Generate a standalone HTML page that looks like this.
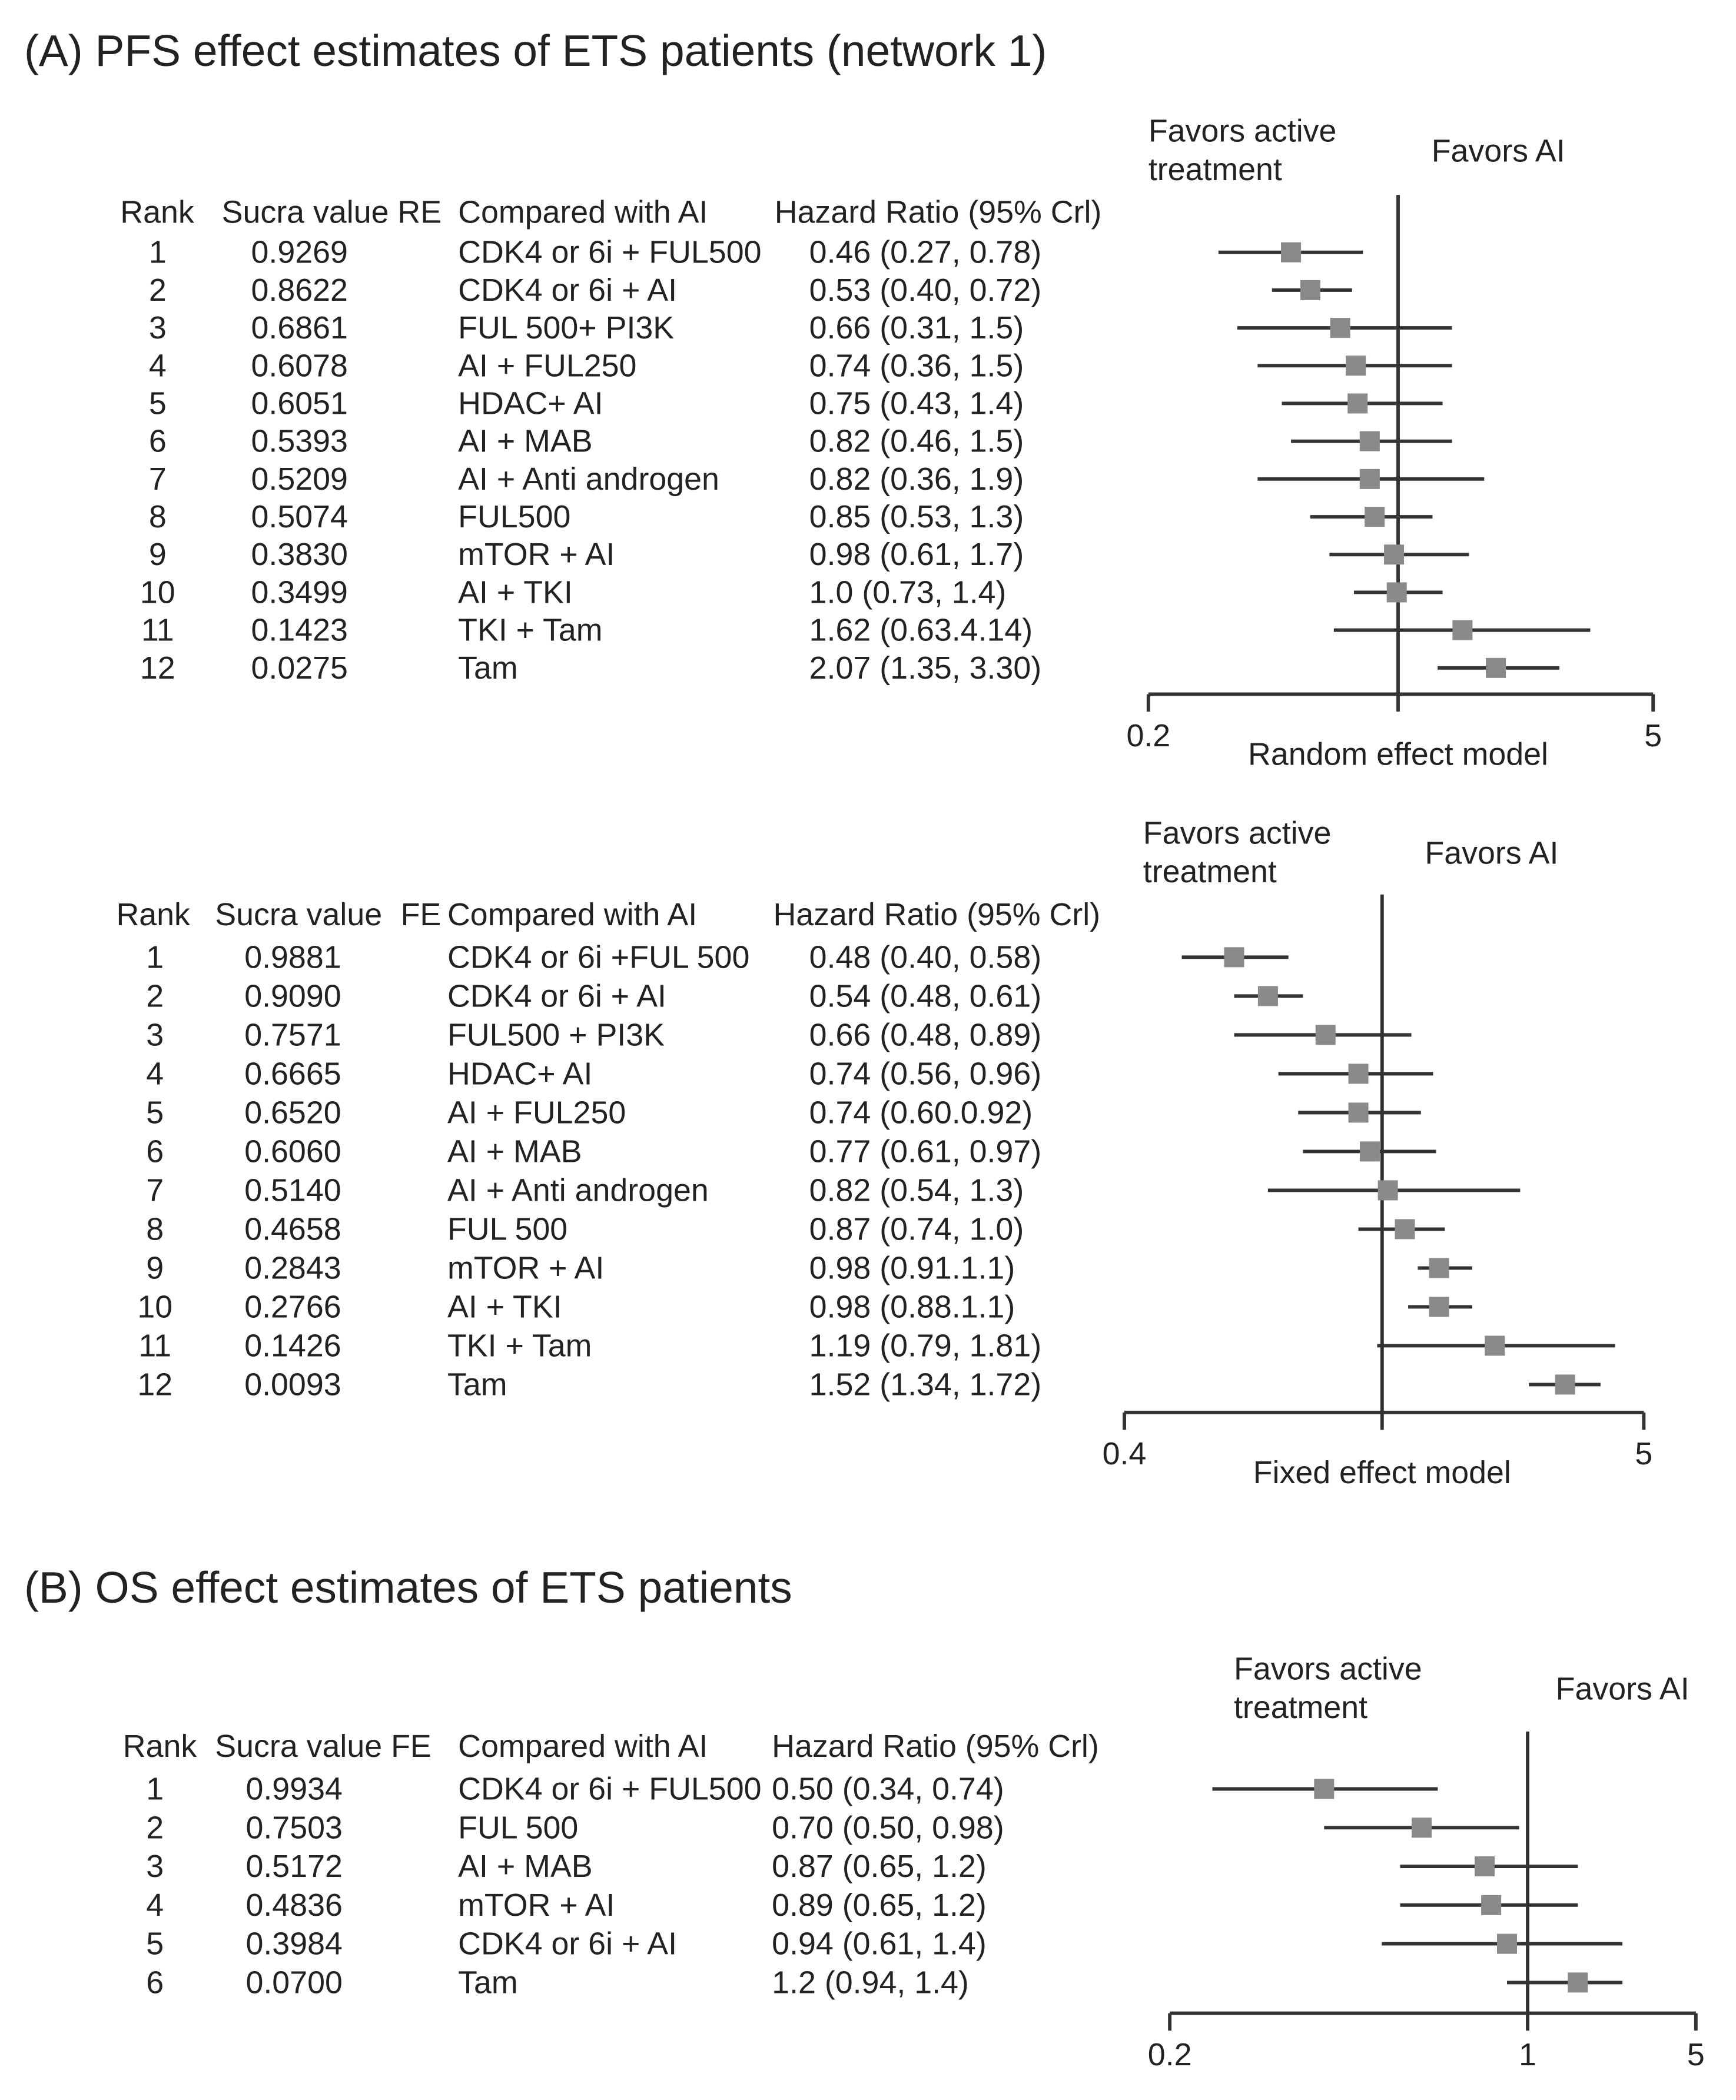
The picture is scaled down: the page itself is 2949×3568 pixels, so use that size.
<!DOCTYPE html>
<html><head><meta charset="utf-8"><style>
html,body{margin:0;padding:0;background:#fff;}
svg{display:block;}
text{font-family:"Liberation Sans",Arial,sans-serif;fill:#222;}
</style></head><body>
<svg id="fig" xmlns="http://www.w3.org/2000/svg" width="2949" height="3568" viewBox="0 0 1300 1573">
<rect x="0" y="0" width="1300" height="1573" fill="#fff"/>
</svg>
<script>
// ---- Panel 1 (PFS random effect) ----
const p1Ranks = ["1","2","3","4","5","6","7","8","9","10","11","12"];
const p1Sucra = ["0.9269","0.8622","0.6861","0.6078","0.6051","0.5393","0.5209","0.5074","0.3830","0.3499","0.1423","0.0275"];
const p1Names = ["CDK4 or 6i + FUL500","CDK4 or 6i + AI","FUL 500+ PI3K","AI + FUL250","HDAC+ AI","AI + MAB","AI + Anti androgen","FUL500","mTOR + AI","AI + TKI","TKI + Tam","Tam"];
const p1HRText = ["0.46 (0.27, 0.78)","0.53 (0.40, 0.72)","0.66 (0.31, 1.5)","0.74 (0.36, 1.5)","0.75 (0.43, 1.4)","0.82 (0.46, 1.5)","0.82 (0.36, 1.9)","0.85 (0.53, 1.3)","0.98 (0.61, 1.7)","1.0 (0.73, 1.4)","1.62 (0.63.4.14)","2.07 (1.35, 3.30)"];
const p1HR = [0.46,0.53,0.66,0.74,0.75,0.82,0.82,0.85,0.98,1.0,1.62,2.07];
const p1Lo = [0.27,0.40,0.31,0.36,0.43,0.46,0.36,0.53,0.61,0.73,0.63,1.35];
const p1Hi = [0.78,0.72,1.5,1.5,1.4,1.5,1.9,1.3,1.7,1.4,4.14,3.30];
const p1Ticks = ["0.2","5"];
// ---- Panel 2 (PFS fixed effect) ----
const p2Ranks = ["1","2","3","4","5","6","7","8","9","10","11","12"];
const p2Sucra = ["0.9881","0.9090","0.7571","0.6665","0.6520","0.6060","0.5140","0.4658","0.2843","0.2766","0.1426","0.0093"];
const p2Names = ["CDK4 or 6i +FUL 500","CDK4 or 6i + AI","FUL500 + PI3K","HDAC+ AI","AI + FUL250","AI + MAB","AI + Anti androgen","FUL 500","mTOR + AI","AI + TKI","TKI + Tam","Tam"];
const p2HRText = ["0.48 (0.40, 0.58)","0.54 (0.48, 0.61)","0.66 (0.48, 0.89)","0.74 (0.56, 0.96)","0.74 (0.60.0.92)","0.77 (0.61, 0.97)","0.82 (0.54, 1.3)","0.87 (0.74, 1.0)","0.98 (0.91.1.1)","0.98 (0.88.1.1)","1.19 (0.79, 1.81)","1.52 (1.34, 1.72)"];
const p2HR = [0.48,0.54,0.66,0.74,0.74,0.77,0.82,0.87,0.98,0.98,1.19,1.52];
const p2Lo = [0.40,0.48,0.48,0.56,0.60,0.61,0.54,0.74,0.91,0.88,0.79,1.34];
const p2Hi = [0.58,0.61,0.89,0.96,0.92,0.97,1.3,1.0,1.1,1.1,1.81,1.72];
const p2Ticks = ["0.4","5"];
// ---- Panel 3 (OS fixed effect) ----
const p3Ranks = ["1","2","3","4","5","6"];
const p3Sucra = ["0.9934","0.7503","0.5172","0.4836","0.3984","0.0700"];
const p3Names = ["CDK4 or 6i + FUL500","FUL 500","AI + MAB","mTOR + AI","CDK4 or 6i + AI","Tam"];
const p3HRText = ["0.50 (0.34, 0.74)","0.70 (0.50, 0.98)","0.87 (0.65, 1.2)","0.89 (0.65, 1.2)","0.94 (0.61, 1.4)","1.2 (0.94, 1.4)"];
const p3HR = [0.50,0.70,0.87,0.89,0.94,1.2];
const p3Lo = [0.34,0.50,0.65,0.65,0.61,0.94];
const p3Hi = [0.74,0.98,1.2,1.2,1.4,1.4];
const p3Ticks = ["0.2","1","5"];

const svg = document.getElementById('fig');
const NS = 'http://www.w3.org/2000/svg';
function mk(tag, attrs, name, txt){
  const el = document.createElementNS(NS, tag);
  for (const k in attrs) el.setAttribute(k, attrs[k]);
  
  
  if (txt !== undefined) el.textContent = txt;
  svg.appendChild(el);
  return el;
}
function txt(x,y,s,size,name,anchor){
  return mk('text',{x:x,y:y,'font-size':size,'text-anchor':anchor||'start','dominant-baseline':'central'},name,s);
}
function line(x1,y1,x2,y2,name,w){
  return mk('line',{x1:x1,y1:y1,x2:x2,y2:y2,stroke:'#333','stroke-width':w||2.6},name);
}
function logScale(x0, k){ return v => x0 + k*Math.log(v); }

function panel(cfg){
  const F = 23.7;
  const hy = cfg.headerY;
  cfg.headers.forEach(h => txt(h[1], hy, h[0], F, 'column-header-' + h[2]));
  const yOf = i => cfg.rowY0 + i*cfg.rowStep;
  cfg.ranks.forEach((r,i)=>txt(cfg.rankX, yOf(i), r, F, 'rank-' + r, 'middle'));
  cfg.sucra.forEach((s,i)=>txt(cfg.sucraX, yOf(i), s, F, 'sucra-value-row-' + (i+1)));
  cfg.names.forEach((s,i)=>txt(cfg.nameX, yOf(i), s, F, 'treatment-name-row-' + (i+1)));
  cfg.hrText.forEach((s,i)=>txt(cfg.hrX, yOf(i), s, F, 'hazard-ratio-row-' + (i+1)));
  txt(cfg.favX, cfg.favY, 'Favors active', F, 'favors-active-label');
  txt(cfg.favX, cfg.favY + 29, 'treatment', F, 'favors-active-label-line2');
  txt(cfg.aiX, cfg.favY + 15, 'Favors AI', F, 'favors-ai-label');
  line(cfg.refX, cfg.refTop, cfg.refX, cfg.axisY + 13, 'reference-line');
  line(cfg.axisX0, cfg.axisY, cfg.axisX1, cfg.axisY, 'x-axis-line');
  cfg.tickX.forEach((tx,j)=>{
    line(tx, cfg.axisY, tx, cfg.axisY + 13, 'x-axis-tick');
    txt(tx, cfg.axisY + 31, cfg.ticks[j], F, 'x-axis-tick-label', 'middle');
  });
  if (cfg.axisTitle) txt(cfg.refX, cfg.axisY + 45, cfg.axisTitle, F, 'x-axis-title', 'middle');
  const x = cfg.scale;
  cfg.hr.forEach((v,i)=>{
    const y = yOf(i);
    line(x(cfg.lo[i]), y, x(cfg.hi[i]), y, 'ci-line-row-' + (i+1), 2.6);
    mk('rect',{x:x(v)-7.5,y:y-7.5,width:15,height:15,fill:'#8a8a8a'},'point-estimate-row-' + (i+1));
  });
}

mk('text',{x:18,y:38,'font-size':33,'dominant-baseline':'central'},'panel-a-title','(A) PFS effect estimates of ETS patients (network 1)');
mk('text',{x:18,y:1189,'font-size':33,'dominant-baseline':'central'},'panel-b-title','(B) OS effect estimates of ETS patients');

panel({headerY:159, headers:[['Rank',90,'rank'],['Sucra value RE',166,'sucra'],['Compared with AI',343,'compared'],['Hazard Ratio (95% Crl)',580,'hazard-ratio']],
  rowY0:189, rowStep:28.3, rankX:118, sucraX:188, nameX:343, hrX:606,
  ranks:p1Ranks, sucra:p1Sucra, names:p1Names, hrText:p1HRText, hr:p1HR, lo:p1Lo, hi:p1Hi,
  favX:860, favY:98, aiX:1072, refX:1047, refTop:146, axisY:520, axisX0:860, axisX1:1238,
  tickX:[860,1238], ticks:p1Ticks, axisTitle:'Random effect model', scale:logScale(1046,102)});

panel({headerY:685, headers:[['Rank',87,'rank'],['Sucra value',161,'sucra'],['FE',300,'fe'],['Compared with AI',335,'compared'],['Hazard Ratio (95% Crl)',579,'hazard-ratio']],
  rowY0:717, rowStep:29.1, rankX:116, sucraX:183, nameX:335, hrX:606,
  ranks:p2Ranks, sucra:p2Sucra, names:p2Names, hrText:p2HRText, hr:p2HR, lo:p2Lo, hi:p2Hi,
  favX:856, favY:624, aiX:1067, refX:1035, refTop:670, axisY:1058, axisX0:842, axisX1:1231,
  tickX:[842,1231], ticks:p2Ticks, axisTitle:'Fixed effect model', scale:logScale(1082,215)});

panel({headerY:1308, headers:[['Rank',92,'rank'],['Sucra value FE',161,'sucra'],['Compared with AI',343,'compared'],['Hazard Ratio (95% Crl)',578,'hazard-ratio']],
  rowY0:1340, rowStep:29, rankX:116, sucraX:184, nameX:343, hrX:578,
  ranks:p3Ranks, sucra:p3Sucra, names:p3Names, hrText:p3HRText, hr:p3HR, lo:p3Lo, hi:p3Hi,
  favX:924, favY:1250, aiX:1165, refX:1144, refTop:1297, axisY:1508, axisX0:876, axisX1:1270,
  tickX:[876,1144,1270], ticks:p3Ticks, axisTitle:null, scale:logScale(1142,217)});
</script>
</body></html>
